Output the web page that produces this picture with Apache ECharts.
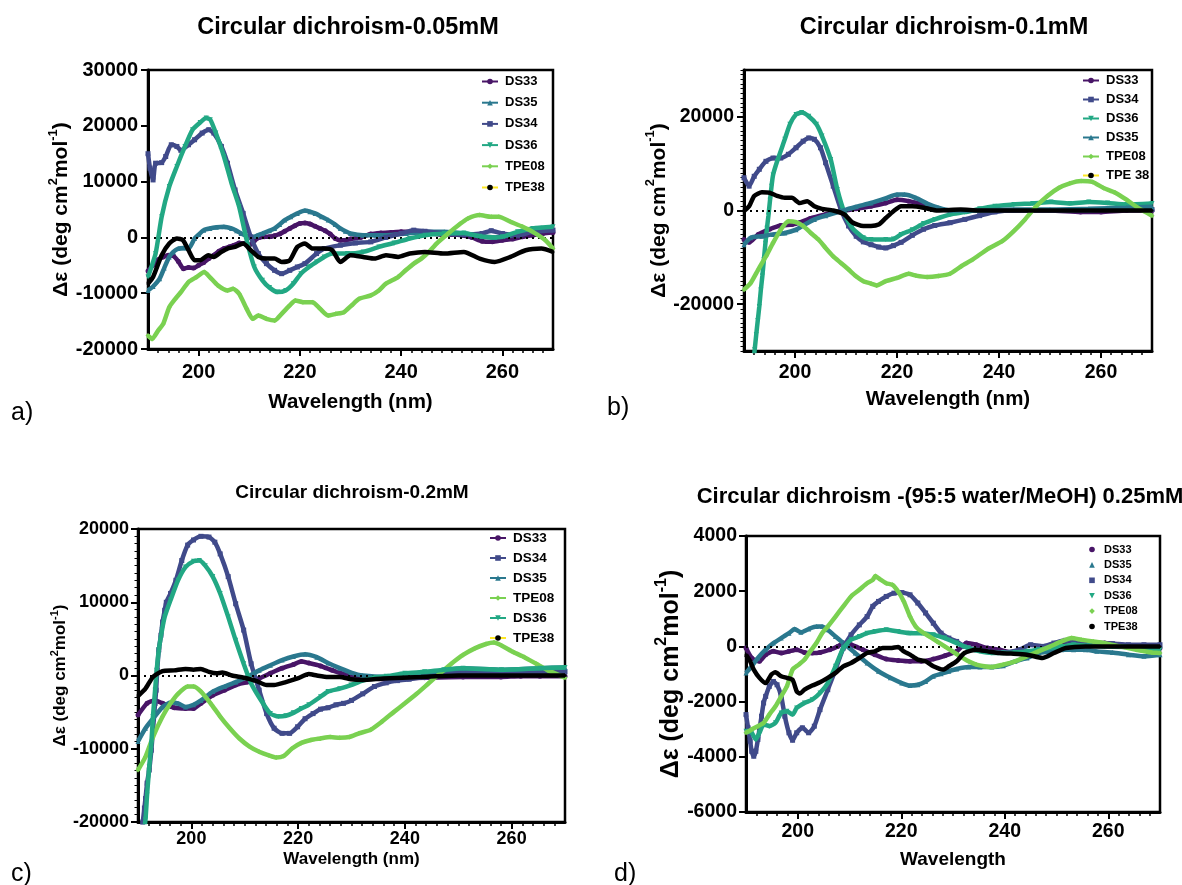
<!DOCTYPE html>
<html>
<head>
<meta charset="utf-8">
<script src="https://cdn.jsdelivr.net/npm/echarts@6/dist/echarts.min.js"></script>
<style>
  html, body { margin: 0; padding: 0; background: #fff; }
  #chart { width: 1182px; height: 885px; }
</style>
</head>
<body>
<div id="chart"></div>
<script>
// ---- Circular dichroism spectra: [wavelength (nm), Δε] ----

// a) 0.05 mM
const A_DS33 = [[190,-6000],[191,-5000],[192,-4000],[193,-3500],[194,-3200],[195,-3300],[196,-4300],[197,-5600],[198,-5400],[199,-5500],[200,-5000],[201,-4500],[202,-3800],[203,-3200],[204,-2500],[205,-2000],[206,-1700],[207,-1400],[208,-1000],[209,-1100],[210,-1400],[211,-600],[212,0],[213,100],[214,100],[215,300],[216,600],[217,1100],[218,1600],[219,2100],[220,2500],[221,2600],[222,2400],[223,2000],[224,1600],[225,1200],[226,600],[227,-200],[228,-500],[229,-500],[230,-300],[232,0],[234,600],[236,800],[238,900],[240,1000],[242,1000],[244,800],[246,700],[248,500],[250,500],[252,400],[254,0],[256,-700],[258,-800],[260,-500],[262,-300],[264,100],[266,400],[268,700],[270,900]];
const A_DS35 = [[190,-9500],[191,-8800],[192.3,-7400],[193.2,-5500],[194.2,-3500],[195,-2600],[196,-2000],[197,-1900],[198,-2000],[199.2,-200],[200,500],[201,1300],[202.2,1600],[203.5,1800],[205,1900],[206.5,1600],[207.5,1200],[208.4,700],[209.4,300],[210.3,0],[211.5,300],[212.6,700],[214,1200],[215,1600],[216,2300],[217,3100],[218.2,3700],[219.5,4300],[221,4800],[222,4600],[223,4300],[224.3,3700],[225.6,3100],[227,2300],[228,1600],[229,1100],[230,700],[232.5,400],[235,400],[237,400],[241,700],[245,1000],[248.5,1000],[252.4,700],[256,200],[258.5,0],[260,200],[261.6,400],[264.6,1300],[267.7,1700],[270,1600]];
const A_DS34 = [[190,15000],[190.4,12400],[191,10300],[191.5,13300],[192.7,13400],[193.5,14500],[194.6,16600],[195.7,16300],[196.5,15600],[198,16600],[199.2,17500],[200.7,18700],[202,19300],[203,18700],[204.5,16300],[205.7,13300],[207.2,8500],[208.8,4300],[210.3,100],[211.8,-2900],[213.4,-4700],[215,-5900],[216.4,-6500],[218,-5900],[219.5,-5300],[221,-4700],[223.3,-2900],[224.8,-2000],[228,-1400],[231,-1000],[234,-800],[237,0],[240,700],[242.5,1300],[244.7,1100],[248.5,700],[252.4,500],[256,700],[257.8,1200],[260,700],[263,400],[266,1000],[270,1300]];
const A_DS36 = [[190,-7100],[191.5,-2900],[192.7,3700],[194.2,9100],[195.7,12700],[197.3,16300],[198.8,19300],[200.3,20600],[201.5,21400],[202.3,21100],[203.4,18700],[205,14500],[206.5,9700],[208,5500],[209.5,-500],[211,-5300],[212.6,-7700],[214,-9000],[215.6,-9800],[217.2,-9500],[218.7,-8300],[220.2,-6500],[221.8,-5300],[223.3,-4400],[224.8,-3500],[226.4,-2900],[229.4,-2900],[232.5,-2600],[235.6,-1700],[238.6,-1000],[241.7,-200],[244.7,400],[248.5,700],[252.4,800],[255.5,200],[257.8,0],[260,100],[263,1000],[266,1600],[270,1900]];
const A_TPE08 = [[190,-17600],[190.8,-18200],[192,-16700],[193,-15500],[194.2,-12500],[195.4,-11000],[196.5,-9800],[198,-8000],[199.6,-7100],[201.1,-6200],[202.2,-7100],[203.8,-8600],[205.7,-9500],[206.8,-9200],[208,-10100],[209.5,-12800],[210.7,-14600],[211.8,-14000],[213.4,-14600],[215,-14900],[216.4,-13700],[218,-12200],[219.1,-11300],[220.6,-11600],[222.5,-11600],[224,-12800],[225.6,-14000],[227.1,-13700],[228.7,-13400],[230.2,-12200],[231.7,-11000],[234,-10400],[235.6,-9500],[237,-8300],[239.4,-7100],[240.9,-5900],[242.5,-4700],[244,-3800],[245.5,-2600],[247,-1100],[249.3,700],[251.6,2400],[253.2,3400],[255.5,4000],[257.8,3700],[259.3,3700],[261.6,2800],[264,1900],[266,1000],[268.5,-500],[270,-2000]];
const A_TPE38 = [[190,-8300],[191,-7100],[192.7,-3200],[194.2,-1100],[195.7,-200],[196.9,-500],[198,-2300],[199.2,-4100],[200.3,-4100],[201.9,-3200],[203,-3500],[204.5,-2600],[205.7,-2000],[207.2,-1700],[208.8,-1100],[210.3,-2300],[211.8,-3500],[213.4,-3800],[215,-3800],[216.4,-4400],[218,-4100],[219.5,-1700],[221,-1100],[222.5,-2000],[224.8,-2000],[226.4,-2300],[228,-4400],[230,-3200],[232.5,-3500],[234.8,-3800],[237,-3200],[239.4,-3500],[241.7,-2900],[244.7,-2600],[248.5,-2900],[252.4,-2600],[255.5,-3800],[258.5,-4400],[261.6,-3500],[264.6,-2300],[267.7,-2000],[270,-2600]];

// b) 0.1 mM
const B_DS33 = [[190,-6200],[191,-6800],[192.8,-5100],[195,-4000],[197.2,-3200],[199.4,-3000],[200.9,-2600],[203,-1700],[206,-850],[209,-100],[212,350],[214.9,900],[217.8,1600],[220,2300],[222.3,2000],[225.2,1300],[228,350],[231,0],[235.5,0],[243,0],[250,0],[256,-300],[260,-300],[265,0],[270,0]];
const B_DS34 = [[190,7000],[191,5200],[192,7300],[193,8800],[194.3,10500],[195.7,11200],[197.2,11200],[198.7,12000],[200.2,13400],[201.6,14800],[202.7,15500],[203.8,15200],[205,13400],[206,10200],[207.5,5200],[209,200],[210.5,-3300],[212,-5500],[213.4,-6700],[214.9,-7300],[216.4,-7800],[217.8,-8000],[219.3,-7500],[220.8,-6800],[223,-5300],[225.2,-4000],[227.4,-3200],[230.4,-2600],[233.3,-1900],[236.2,-1100],[239.2,-300],[242.9,0],[250.2,0],[257.6,0],[265,350],[270,200]];
const B_DS36 = [[191.7,-33500],[192.1,-29700],[192.4,-26500],[192.7,-23500],[193,-20500],[193.3,-17000],[193.6,-14000],[193.9,-10500],[194.2,-7000],[194.5,-3800],[194.8,-1000],[195.1,2200],[195.4,5200],[195.7,7600],[196.5,10500],[198,15200],[199,18400],[200.2,20500],[201.3,20900],[202.7,20100],[204.2,18400],[205.3,15900],[207,10900],[208.3,4500],[209.7,-500],[211.2,-3700],[213.4,-5800],[214.9,-6200],[217.8,-6200],[219.3,-6100],[220.8,-5100],[223,-4100],[225.2,-2800],[227.4,-1900],[230.4,-850],[233.3,-350],[236.2,350],[239.2,900],[242.9,1300],[246.6,1500],[250.2,1800],[253.9,1500],[257.6,1800],[261.3,1600],[265,1300],[270,1500]];
const B_DS35 = [[190,-7300],[191.3,-5800],[193.5,-5500],[195.7,-5100],[198,-4800],[200.2,-4100],[201.6,-3200],[203.8,-1900],[206,-1100],[209,-150],[212,800],[214.9,1600],[217.8,2600],[220,3400],[221.5,3400],[223.7,2700],[225.9,1500],[228.1,600],[230.4,0],[235.5,0],[242.9,200],[250,200],[257.6,350],[265,600],[270,800]];
const B_TPE08 = [[190,-16900],[191.3,-15500],[192.8,-12600],[194.3,-9800],[195.7,-6900],[197.2,-4100],[198.7,-2300],[200.2,-2500],[201.6,-3300],[203.1,-4800],[204.6,-6200],[206,-8000],[207.5,-9800],[209,-11200],[210.5,-12600],[211.9,-14000],[213.4,-15100],[214.9,-15600],[216,-16000],[217.8,-15100],[220,-14400],[222.3,-13500],[223.7,-13900],[225.9,-14200],[228.1,-14000],[230.4,-13500],[232.6,-11900],[234.8,-10500],[237.7,-8300],[240.7,-6500],[242.9,-4400],[245.1,-1900],[247.3,900],[249.5,3100],[251.7,4800],[253.9,5800],[256.1,6300],[258.3,6100],[260.5,4800],[262.8,3800],[265,2300],[267.2,600],[270,-1100]];
const B_TPE38 = [[190,-100],[191,900],[192,3100],[193.5,3900],[195,3800],[196.5,3100],[198,2700],[199.4,2700],[200.9,1600],[202.4,2000],[203.8,900],[205.3,350],[207.5,0],[209.7,-850],[211.2,-2500],[213.4,-3300],[214.9,-3300],[216.4,-3000],[217.8,-1600],[219.3,-150],[220.8,900],[223,900],[225.2,600],[228,0],[232.5,200],[236,0],[245,0],[255,0],[262,0],[270,0]];

// c) 0.2 mM
const C_DS33 = [[190,-5400],[191.7,-3800],[193.2,-3400],[194.6,-3800],[196.8,-4400],[198.9,-4500],[200.4,-4500],[201.8,-3800],[204,-2700],[206.2,-2000],[208.3,-1300],[210.5,-900],[212.7,-400],[214.8,300],[217,1000],[219.1,1500],[220.6,1900],[222,1700],[224.2,1300],[226.4,700],[228.5,200],[230.7,-200],[233.6,-400],[236.5,-500],[240,-400],[243.7,-300],[250.9,-200],[258,-200],[261.7,-100],[265.3,-100],[270,-100]];
const C_DS34 = [[190.6,-22500],[190.9,-20000],[191.2,-18100],[191.4,-16800],[191.7,-14700],[192.1,-12900],[192.5,-10200],[192.8,-7500],[193.2,-3800],[193.4,-2000],[193.6,700],[193.9,3500],[194.3,5500],[194.6,7300],[195,8900],[195.3,10000],[196.1,11200],[197.1,13000],[198.2,15700],[199.3,17800],[200.4,18500],[201.8,19000],[203.3,18900],[204.4,18200],[205.4,16600],[206.9,13500],[208.3,9800],[209.8,6200],[211.2,1600],[212.7,-2000],[214.1,-5200],[215.5,-7200],[217,-7900],[218.4,-7900],[219.9,-7000],[221.3,-5900],[222.8,-5200],[224.2,-4600],[225.6,-4400],[227.1,-4000],[228.5,-3800],[230,-3400],[232.1,-2500],[234.3,-1500],[236.5,-1000],[238.6,-700],[240.8,-500],[243.7,-200],[247.3,200],[250.9,500],[254.5,400],[258.1,300],[261.7,400],[265.3,500],[270,500]];
const C_DS35 = [[190,-9000],[191.4,-7200],[192.8,-5900],[194.6,-4300],[196.1,-3700],[197.5,-3800],[198.9,-4300],[200.4,-4000],[201.8,-3400],[204,-2200],[206.2,-1500],[208.3,-900],[210.5,-200],[212.7,700],[214.8,1400],[217,2100],[219.1,2600],[221.3,2900],[223.5,2500],[225.6,1700],[227.8,1000],[229.9,400],[232.1,0],[236.5,-200],[240,0],[243.7,300],[247.3,700],[250.9,1000],[258.1,800],[265.3,1000],[270,1100]];
const C_TPE08 = [[190,-12900],[191.4,-11100],[192.8,-8400],[194.6,-5600],[196.1,-3800],[197.5,-2500],[199.3,-1500],[200.4,-1500],[201.8,-2200],[203.6,-3800],[205.4,-5600],[207.2,-7200],[209,-8600],[210.9,-9700],[212.7,-10400],[214.5,-10900],[215.9,-11200],[217.3,-11000],[218.8,-10000],[220.6,-9200],[222.4,-8800],[224.2,-8600],[226,-8400],[227.8,-8500],[229.6,-8400],[231.4,-7900],[233.6,-7400],[235.7,-6300],[237.9,-5000],[240,-3800],[242.2,-2500],[244.4,-1100],[246.6,300],[248.7,1600],[250.9,2800],[253.1,3700],[255.2,4300],[256.7,4500],[258.1,4100],[260.3,3200],[262.4,2500],[264.6,1600],[266.8,700],[270,-300]];
const C_DS36 = [[191,-22000],[191.4,-19700],[191.7,-16300],[192.1,-12500],[192.5,-9300],[192.8,-5600],[193.2,-2000],[193.5,700],[193.9,3500],[194.5,6200],[195,8000],[196.1,10300],[197.5,13000],[198.9,14800],[200.4,15600],[201.5,15700],[202.6,15000],[204,13500],[205.4,11200],[206.9,8000],[208.3,4800],[209.8,1600],[211.2,-1100],[213.4,-3800],[214.8,-5200],[216.3,-5600],[217.7,-5500],[219.1,-5100],[220.6,-4500],[222,-4000],[224.2,-2900],[225.6,-2200],[227.8,-1800],[229.9,-1300],[232.1,-700],[234.3,-300],[236.5,-100],[240,300],[243.7,500],[247.3,800],[250.9,1000],[258.1,800],[265.3,1000],[270,1100]];
const C_TPE38 = [[190,-2800],[191.4,-1800],[192.8,-200],[194.6,600],[196.8,700],[198.9,900],[200.4,800],[201.8,900],[203.3,500],[204.7,300],[205.8,400],[207.6,0],[209.8,-300],[212,-700],[214.1,-1300],[215.5,-1300],[217.7,-900],[219.9,-400],[222,200],[223.5,0],[225.6,-200],[227.8,-200],[229.9,-500],[232.1,-600],[236,-400],[243,-200],[250,0],[260,0],[270,0]];

// d) 0.25 mM in 95:5 water/MeOH
const D_DS33 = [[190,-60],[191.1,-420],[192.6,-540],[193.8,-300],[195.3,-180],[196.8,-240],[198.3,-180],[199.8,-120],[201.3,-220],[202.8,-240],[204.3,-220],[206.2,-120],[207.7,0],[208.8,120],[210.3,60],[212.6,-120],[214.9,-300],[217.1,-460],[219.4,-510],[221.7,-540],[223.9,-540],[226.2,-460],[228.4,-340],[230.7,-180],[232.6,120],[234.5,60],[236.7,-60],[239,-120],[241.2,-220],[243.5,-280],[245.8,-240],[247.3,-180],[249.5,0],[251.8,180],[254.1,180],[256.3,140],[259.3,120],[262.3,60],[265.4,-20],[267.6,-120],[270,-60]];
const D_DS35 = [[190,-960],[191.1,-720],[192.3,-420],[193.8,-120],[195.3,120],[196.8,300],[198.3,480],[199.4,630],[200.6,510],[202.1,630],[203.6,720],[204.7,720],[205.8,600],[207.3,360],[208.8,120],[211.1,-240],[213.4,-600],[215.6,-900],[217.9,-1140],[220.1,-1330],[221.7,-1420],[223.2,-1390],[224.7,-1270],[226.2,-1080],[227.7,-990],[229.2,-900],[230.7,-820],[233,-750],[235.2,-750],[237.5,-750],[239.7,-700],[242,-540],[244.3,-420],[246.5,-240],[248.8,-180],[251,-120],[253.3,-120],[255.6,-120],[257.8,-180],[260.8,-220],[263.9,-300],[266.9,-360],[270,-300]];
const D_DS34 = [[190,-2470],[190.4,-2950],[190.8,-3430],[191.1,-3800],[191.5,-3980],[191.9,-3800],[192.3,-3370],[192.6,-3010],[193,-2530],[193.4,-2050],[193.8,-1810],[194.5,-1450],[195.3,-1270],[196,-1390],[196.8,-1810],[197.5,-2530],[198.3,-3130],[199,-3400],[199.8,-3130],[200.9,-2950],[202.1,-3130],[203.2,-2890],[204.3,-2290],[205.8,-1570],[207.3,-840],[208.8,-60],[210.3,420],[211.9,780],[213.4,1080],[214.5,1450],[215.6,1630],[217.1,1810],[218.6,1930],[220.1,1950],[221.7,1870],[223.2,1570],[224.7,1210],[226.2,840],[227.7,480],[229.2,300],[230.7,180],[232.2,0],[234.5,-120],[236.7,-180],[239.7,-220],[242.8,-120],[245,60],[247.3,0],[249.5,120],[251.8,220],[254.8,180],[257.8,120],[260.8,100],[263.9,60],[266.9,60],[270,60]];
const D_DS36 = [[190,-3070],[191.1,-3130],[191.9,-3370],[192.6,-3130],[193.4,-2830],[194.5,-2890],[195.7,-2770],[196.8,-2410],[197.9,-2350],[199,-2470],[199.8,-2230],[201.3,-2050],[202.8,-1930],[204.3,-1690],[205.8,-1330],[207.3,-720],[208.8,-60],[210.3,240],[211.9,360],[213.4,480],[214.9,540],[217.1,600],[219.4,540],[221.7,480],[223.9,480],[226.2,420],[228.4,300],[230.7,120],[233,-60],[235.2,-180],[237.5,-240],[239.7,-240],[242,-220],[244.3,-180],[246.5,-120],[248.8,-60],[251,0],[253.3,60],[256.3,20],[259.3,0],[263.1,-20],[266.9,-60],[270,-120]];
const D_TPE08 = [[190,-3130],[191.1,-3010],[192.3,-2890],[193.4,-2770],[194.5,-2470],[195.7,-2170],[196.8,-1810],[197.9,-1450],[199,-840],[200.2,-660],[201.3,-480],[202.4,-180],[203.6,120],[204.7,480],[205.8,720],[207.3,1080],[208.8,1450],[210.3,1810],[211.9,2050],[213.4,2290],[214.5,2410],[215,2550],[215.6,2470],[217.1,2290],[218.3,2230],[219.4,1990],[220.5,1630],[221.7,1080],[222.8,720],[223.9,540],[225.4,360],[226.9,180],[228.4,0],[229.9,-180],[231.4,-360],[233,-540],[234.5,-660],[236,-720],[237.5,-750],[239.7,-660],[242,-540],[244.3,-360],[246.5,-180],[248.8,0],[251,180],[252.9,300],[254.8,240],[257.1,180],[259.3,120],[262.3,0],[265.4,-120],[268.4,-220],[270,-240]];
const D_TPE38 = [[190,-300],[190.8,-540],[191.5,-840],[192.6,-1140],[193.8,-1330],[194.9,-1020],[195.7,-940],[196.8,-1080],[197.9,-1140],[199,-1210],[199.8,-1630],[200.4,-1710],[201.3,-1570],[202.8,-1420],[204.3,-1300],[205.8,-1140],[207.3,-960],[208.8,-720],[210.3,-600],[211.9,-420],[213.4,-240],[214.9,-180],[216.4,-60],[217.9,-60],[219.4,-20],[220.5,-180],[221.7,-300],[223.2,-480],[224.7,-540],[226.2,-720],[228.1,-840],[229.2,-720],[230.7,-540],[232.2,-240],[234.5,-120],[236.7,-180],[239,-240],[241.2,-260],[244.3,-300],[247.3,-420],[249.5,-240],[251.8,-60],[255.6,0],[262,0],[270,0]];

// ---- axis tick labels ----
const wavelengthLabels = [200, 220, 240, 260];
const yLabelsA = [-20000, -10000, 0, 10000, 20000, 30000];
const yLabelsB = [-20000, 0, 20000];
const yLabelsC = [-20000, -10000, 0, 10000, 20000];
const yLabelsD = [-6000, -4000, -2000, 0, 2000, 4000];

// ---- styling ----
const FONT = '"Liberation Sans", Arial, sans-serif';
const COLORS = { DS33: '#481567', DS34: '#404a8a', DS35: '#2a788e', DS36: '#22a884', TPE08: '#7ad151', TPE38: '#000000' };
const SYMBOLS = { DS33: 'circle', DS34: 'rect', DS35: 'triangle', DS36: 'triangle', TPE08: 'diamond', TPE38: 'circle' };
const LEGEND_YELLOW = '#fde725';

function range(a, b, step) { const out = []; for (let v = a; v <= b + 1e-9; v += step) out.push(v); return out; }

const panels = [
  {
    label: 'a)', labelPos: [11, 413],
    title: 'Circular dichroism-0.05mM', titlePos: [348, 28], titleSize: 23.5,
    grid: { left: 148, top: 70, width: 405, height: 279 },
    yMin: -20000, yMax: 30000, yLabels: yLabelsA, yMinor: null,
    axisFont: 20, xLabelMargin: 13, yLabelMargin: 10,
    xName: 'Wavelength (nm)', xNameSize: 20.5, xNameGap: 43, yNameSize: 21, yNameGap: 75,
    legend: { left: 476, top: 70, font: 13, gap: 8.2, width: 16, lines: true },
    series: [['DS33', A_DS33], ['DS35', A_DS35], ['DS34', A_DS34], ['DS36', A_DS36], ['TPE08', A_TPE08], ['TPE38', A_TPE38]]
  },
  {
    label: 'b)', labelPos: [607, 408],
    title: 'Circular dichroism-0.1mM', titlePos: [944, 28], titleSize: 23.5,
    grid: { left: 744, top: 70, width: 408, height: 281 },
    yMin: -30000, yMax: 30000, yLabels: yLabelsB, yMinor: 1000,
    axisFont: 19.5, xLabelMargin: 12, yLabelMargin: 10,
    xName: 'Wavelength (nm)', xNameSize: 20.5, xNameGap: 38, yNameSize: 21, yNameGap: 71,
    legend: { left: 1077, top: 69, font: 13, gap: 6, width: 16, lines: true },
    series: [['DS33', B_DS33], ['DS34', B_DS34], ['DS36', B_DS36], ['DS35', B_DS35], ['TPE08', B_TPE08], ['TPE 38', B_TPE38]]
  },
  {
    label: 'c)', labelPos: [11, 874],
    title: 'Circular dichroism-0.2mM', titlePos: [352, 493], titleSize: 19,
    grid: { left: 138, top: 529, width: 427, height: 293 },
    yMin: -20000, yMax: 20000, yLabels: yLabelsC, yMinor: 1000,
    axisFont: 18, xLabelMargin: 8, yLabelMargin: 9,
    xName: 'Wavelength (nm)', xNameSize: 17, xNameGap: 29, yNameSize: 17, yNameGap: 69,
    legend: { left: 484, top: 526, font: 13.5, gap: 6, width: 16, lines: true },
    series: [['DS33', C_DS33], ['DS34', C_DS34], ['DS35', C_DS35], ['TPE08', C_TPE08], ['DS36', C_DS36], ['TPE38', C_TPE38]]
  },
  {
    label: 'd)', labelPos: [614, 874],
    title: 'Circular dichroism -(95:5 water/MeOH) 0.25mM', titlePos: [940, 497], titleSize: 22,
    grid: { left: 746, top: 536, width: 414, height: 276 },
    yMin: -6000, yMax: 4000, yLabels: yLabelsD, yMinor: null,
    axisFont: 19.5, xLabelMargin: 10, yLabelMargin: 9,
    xName: 'Wavelength', xNameSize: 19, xNameGap: 38, yNameSize: 25, yNameGap: 59,
    legend: { left: 1081, top: 539, font: 11, gap: 4.4, width: 10, lines: false },
    series: [['DS33', D_DS33], ['DS35', D_DS35], ['DS34', D_DS34], ['DS36', D_DS36], ['TPE08', D_TPE08], ['TPE38', D_TPE38]]
  }
];

const option = {
  backgroundColor: '#ffffff',
  animation: false,
  grid: [], xAxis: [], yAxis: [], series: [], legend: [], graphic: []
};

panels.forEach((p, i) => {
  option.grid.push(Object.assign({ show: true, borderColor: '#000', borderWidth: 2.5, backgroundColor: 'transparent' }, p.grid));

  const labelStyle = { color: '#000', fontFamily: FONT, fontWeight: 'bold', fontSize: p.axisFont, formatter: v => String(v) };

  // wavelength axis with labelled major ticks
  const xMain = option.xAxis.length;
  option.xAxis.push({
    type: 'value', gridIndex: i, min: 190, max: 270, position: 'bottom',
    name: p.xName, nameLocation: 'middle', nameGap: p.xNameGap,
    nameTextStyle: { color: '#000', fontFamily: FONT, fontWeight: 'bold', fontSize: p.xNameSize },
    axisLine: { show: true, onZero: false, lineStyle: { color: '#000', width: 3 } },
    axisTick: { show: true, customValues: wavelengthLabels, length: 7, lineStyle: { color: '#000', width: 2 } },
    axisLabel: Object.assign({ customValues: wavelengthLabels, margin: p.xLabelMargin }, labelStyle),
    splitLine: { show: false }
  });
  // 2 nm minor ticks
  option.xAxis.push({
    type: 'value', gridIndex: i, min: 190, max: 270, position: 'bottom',
    axisLine: { show: false, onZero: false },
    axisTick: { show: true, customValues: range(192, 268, 2).filter(v => v % 20 !== 0), length: 4, lineStyle: { color: '#000', width: 1.5 } },
    axisLabel: { show: false }, splitLine: { show: false }
  });

  const yMain = option.yAxis.length;
  const lh = Math.round(p.yNameSize * 1.2);
  option.yAxis.push({
    type: 'value', gridIndex: i, min: p.yMin, max: p.yMax, position: 'left',
    name: '{n|Δε (deg cm}{s|2}{n|mol}{s|-1}{n|)}',
    nameLocation: 'middle', nameRotate: 90, nameGap: p.yNameGap,
    nameTextStyle: {
      rich: {
        n: { color: '#000', fontFamily: FONT, fontWeight: 'bold', fontSize: p.yNameSize, lineHeight: lh, verticalAlign: 'bottom' },
        s: { color: '#000', fontFamily: FONT, fontWeight: 'bold', fontSize: Math.round(p.yNameSize * 0.62), verticalAlign: 'top', lineHeight: lh }
      }
    },
    axisLine: { show: true, onZero: false, lineStyle: { color: '#000', width: 3 } },
    axisTick: { show: true, customValues: p.yLabels, length: 7, lineStyle: { color: '#000', width: 2 } },
    axisLabel: Object.assign({ customValues: p.yLabels, margin: p.yLabelMargin }, labelStyle),
    splitLine: { show: false }
  });
  if (p.yMinor) {
    option.yAxis.push({
      type: 'value', gridIndex: i, min: p.yMin, max: p.yMax, position: 'left',
      axisLine: { show: false, onZero: false },
      axisTick: { show: true, customValues: range(p.yMin, p.yMax, p.yMinor), length: 3.5, lineStyle: { color: '#000', width: 1 } },
      axisLabel: { show: false }, splitLine: { show: false }
    });
  }

  p.series.forEach(([name, data], k) => {
    const key = name.replace(' ', '');
    option.series.push({
      type: 'line', name, data, xAxisIndex: xMain, yAxisIndex: yMain,
      color: COLORS[key],
      symbol: SYMBOLS[key], symbolRotate: key === 'DS36' ? 180 : 0,
      symbolSize: key === 'TPE38' ? 3 : 5, showSymbol: true,
      smooth: 0.2,
      lineStyle: { width: 4.5, color: COLORS[key] },
      itemStyle: { color: COLORS[key] },
      z: 2 + k,
      markLine: k === 0 ? {
        silent: true, symbol: ['none', 'none'], label: { show: false },
        lineStyle: { color: '#000', type: [2, 4], width: 1.8 },
        data: [{ yAxis: 0 }]
      } : undefined
    });
  });

  option.legend.push({
    orient: 'vertical', left: p.legend.left, top: p.legend.top,
    itemWidth: p.legend.width, itemHeight: 7, itemGap: p.legend.gap,
    symbolRotate: 'inherit',
    textStyle: { color: '#000', fontFamily: FONT, fontWeight: 'bold', fontSize: p.legend.font, padding: [0, 0, 0, 2] },
    lineStyle: p.legend.lines ? { width: 2 } : { opacity: 0 },
    data: p.series.map(([name]) => {
      const key = name.replace(' ', '');
      const item = { name };
      if (key === 'TPE38') {
        item.itemStyle = { color: '#000' };
        if (p.legend.lines) item.lineStyle = { color: LEGEND_YELLOW };
      }
      return item;
    })
  });

  option.graphic.push({
    type: 'text', x: p.titlePos[0], y: p.titlePos[1],
    style: { text: p.title, fill: '#000', font: `bold ${p.titleSize}px ${FONT}`, textAlign: 'center', textVerticalAlign: 'middle' }
  });
  option.graphic.push({
    type: 'text', x: p.labelPos[0], y: p.labelPos[1],
    style: { text: p.label, fill: '#000', font: `25px ${FONT}`, textAlign: 'left', textVerticalAlign: 'middle' }
  });
});

const chart = echarts.init(document.getElementById('chart'), null, { renderer: 'canvas' });
chart.setOption(option);
</script>
</body>
</html>
